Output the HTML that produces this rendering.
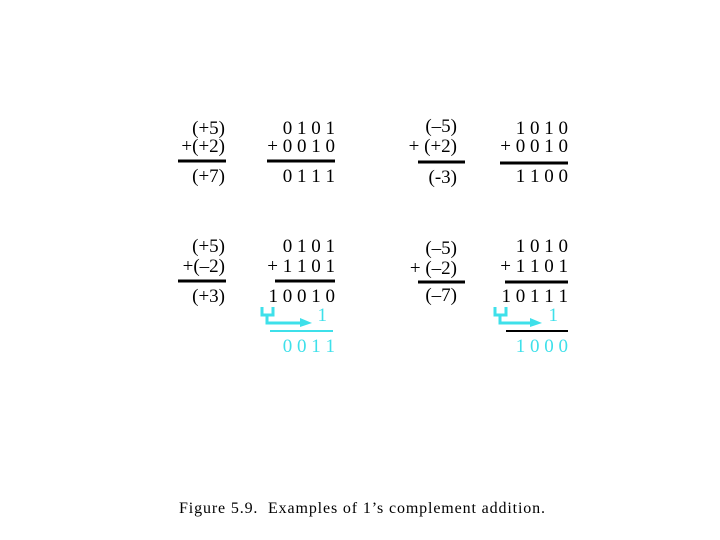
<!DOCTYPE html>
<html><head><style>body{margin:0;background:#fff}svg{display:block}</style></head><body>
<svg width="720" height="540" xmlns="http://www.w3.org/2000/svg" font-family="Liberation Serif, serif" font-size="19">
<g text-anchor="end" fill="#000">
<text x="225" y="134">(+5)</text>
<text x="225" y="152">+(+2)</text>
<text x="225" y="182">(+7)</text>
<text x="335" y="134" xml:space="preserve">0 1 0 1</text>
<text x="335" y="152" xml:space="preserve">+ 0 0 1 0</text>
<text x="335" y="182" xml:space="preserve">0 1 1 1</text>
<text x="457" y="132">(–5)</text>
<text x="457" y="152">+ (+2)</text>
<text x="457" y="183">(-3)</text>
<text x="568" y="134" xml:space="preserve">1 0 1 0</text>
<text x="568" y="152" xml:space="preserve">+ 0 0 1 0</text>
<text x="568" y="182" xml:space="preserve">1 1 0 0</text>

<text x="225" y="252">(+5)</text>
<text x="225" y="272">+(–2)</text>
<text x="225" y="302">(+3)</text>
<text x="335" y="252" xml:space="preserve">0 1 0 1</text>
<text x="335" y="272" xml:space="preserve">+ 1 1 0 1</text>
<text x="335" y="302" xml:space="preserve">1 0 0 1 0</text>
<text x="457" y="254">(–5)</text>
<text x="457" y="274">+ (–2)</text>
<text x="457" y="301">(–7)</text>
<text x="568" y="252" xml:space="preserve">1 0 1 0</text>
<text x="568" y="272" xml:space="preserve">+ 1 1 0 1</text>
<text x="568" y="302" xml:space="preserve">1 0 1 1 1</text>
</g>
<g fill="none" stroke="#000" stroke-width="3">
<line x1="178" y1="161" x2="226" y2="161"/>
<line x1="267" y1="161" x2="335" y2="161"/>
<line x1="418" y1="162" x2="465" y2="162"/>
<line x1="500" y1="163" x2="568" y2="163"/>
<line x1="178" y1="281" x2="226" y2="281"/>
<line x1="275" y1="281" x2="335" y2="281"/>
<line x1="418" y1="282" x2="465" y2="282"/>
<line x1="505" y1="282" x2="568" y2="282"/>
</g>
<g fill="#3ee0ea" text-anchor="end">
<text x="327" y="321">1</text>
<text x="335" y="352" xml:space="preserve">0 0 1 1</text>
<text x="558" y="321">1</text>
<text x="568" y="352" xml:space="preserve">1 0 0 0</text>
</g>
<g fill="none" stroke="#3ee0ea" stroke-width="3">
<path d="M262 307 V315 H273 V307 M267 315 V323 H303"/>
<line x1="270" y1="331" x2="333" y2="331" stroke-width="2"/>
<path d="M495 307 V315 H506 V307 M500 315 V323 H533"/>
</g>
<polygon points="300,318 312,323 300,327" fill="#3ee0ea"/>
<polygon points="530,318 542,323 530,327" fill="#3ee0ea"/>
<line x1="506" y1="331" x2="568" y2="331" stroke="#000" stroke-width="2"/>
<text x="179" y="513" font-size="16" textLength="366" lengthAdjust="spacing" xml:space="preserve">Figure 5.9.  Examples of 1’s complement addition.</text>
</svg>
</body></html>
